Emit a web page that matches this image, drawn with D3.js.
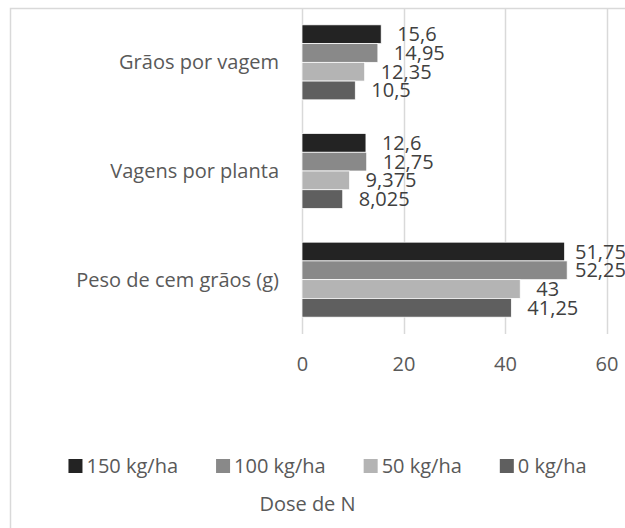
<!DOCTYPE html>
<html>
<head>
<meta charset="utf-8">
<script src="https://cdn.jsdelivr.net/npm/d3@7"></script>
<style>
  body { margin: 0; background: #fff; }
  text { font-family: "Open Sans", "Noto Sans", sans-serif; fill: #595959; }
</style>
</head>
<body>
<script>
// dados do gráfico
var categorias = ["Grãos por vagem", "Vagens por planta", "Peso de cem grãos (g)"];
var doses = ["150 kg/ha", "100 kg/ha", "50 kg/ha", "0 kg/ha"];
var valores150 = [15.6, 12.6, 51.75];
var valores100 = [14.95, 12.75, 52.25];
var valores50 = [12.35, 9.375, 43];
var valores0 = [10.5, 8.025, 41.25];
var ticksX = [0, 20, 40, 60];
var tituloEixo = "Dose de N";

var cores = ["#232323", "#898989", "#b4b4b4", "#5f5f5f"];
var serieValores = [valores150, valores100, valores50, valores0];

var width = 625, height = 528;
var fontSize = 20;

var svg = d3.select("body").append("svg")
    .attr("width", width)
    .attr("height", height);

// borda do gráfico
svg.append("rect")
    .attr("x", 10.5)
    .attr("y", 8.5)
    .attr("width", 700)
    .attr("height", 600)
    .attr("fill", "none")
    .attr("stroke", "#d9d9d9")
    .attr("stroke-width", 1.5);

var plotTop = 8, plotBottom = 334;

var x = d3.scaleLinear().domain([0, 60]).range([302, 606.5]);

var y = d3.scaleBand()
    .domain(categorias)
    .range([plotTop, plotBottom])
    .paddingInner(0.31)
    .paddingOuter(0.155);

var ySerie = d3.scaleBand()
    .domain(doses)
    .range([0, y.bandwidth()]);

// linhas de grade
svg.append("g").selectAll("line")
    .data(ticksX)
    .enter().append("line")
    .attr("x1", function(d){ return Math.round(x(d)) + 0.5; })
    .attr("x2", function(d){ return Math.round(x(d)) + 0.5; })
    .attr("y1", plotTop)
    .attr("y2", plotBottom)
    .attr("stroke", "#d9d9d9")
    .attr("stroke-width", 1.5);

// barras
var linhas = [];
categorias.forEach(function(c, i){
    doses.forEach(function(s, j){
        linhas.push({cat: c, serie: s, valor: serieValores[j][i], cor: cores[j]});
    });
});

var gBarras = svg.append("g");

gBarras.selectAll("rect")
    .data(linhas)
    .enter().append("rect")
    .attr("x", x(0))
    .attr("y", function(d){ return y(d.cat) + ySerie(d.serie); })
    .attr("width", function(d){ return x(d.valor) - x(0); })
    .attr("height", ySerie.bandwidth())
    .attr("fill", function(d){ return d.cor; })
    .attr("stroke", "#fff")
    .attr("stroke-width", 0.75);

// rótulos de valores
gBarras.selectAll("text")
    .data(linhas)
    .enter().append("text")
    .attr("x", function(d){ return Math.min(x(d.valor) + 16, 575); })
    .attr("y", function(d){ return y(d.cat) + ySerie(d.serie) + ySerie.bandwidth() / 2; })
    .attr("dy", "0.35em")
    .style("font-size", fontSize + "px")
    .style("fill", "#404040")
    .text(function(d){ return String(d.valor).replace(".", ","); });

// rótulos das categorias
svg.append("g").selectAll("text")
    .data(categorias)
    .enter().append("text")
    .attr("x", 279)
    .attr("y", function(d){ return y(d) + y.bandwidth() / 2; })
    .attr("dy", "0.35em")
    .attr("text-anchor", "end")
    .style("font-size", fontSize + "px")
    .text(function(d){ return d; });

// eixo x
var eixoX = svg.append("g")
    .attr("transform", "translate(0," + 364 + ")")
    .call(d3.axisBottom(x).tickValues(ticksX).tickSize(0).tickPadding(0));
eixoX.select(".domain").remove();
eixoX.selectAll("text")
    .attr("y", 0)
    .attr("dy", "0.35em")
    .style("font-size", fontSize + "px")
    .style("font-family", null)
    .attr("fill", "#595959");

// legenda
var legenda = svg.append("g");
var itens = legenda.selectAll("g")
    .data(doses)
    .enter().append("g");

itens.append("rect")
    .attr("width", 14)
    .attr("height", 14)
    .attr("y", 459)
    .attr("fill", function(d, i){ return cores[i]; });

itens.append("text")
    .attr("x", 18)
    .attr("y", 466)
    .attr("dy", "0.35em")
    .style("font-size", fontSize + "px")
    .text(function(d){ return d; });

var espaco = 38;
var larguras = [];
itens.each(function(){
    larguras.push(18 + d3.select(this).select("text").node().getComputedTextLength());
});
var total = d3.sum(larguras) + espaco * (larguras.length - 1);
var inicio = 327.5 - total / 2;
itens.attr("transform", function(d, i){
    var off = inicio + d3.sum(larguras.slice(0, i)) + espaco * i;
    return "translate(" + off + ",0)";
});

// título do eixo
svg.append("text")
    .attr("x", 307.5)
    .attr("y", 504)
    .attr("dy", "0.35em")
    .attr("text-anchor", "middle")
    .style("font-size", fontSize + "px")
    .text(tituloEixo);
</script>
</body>
</html>
